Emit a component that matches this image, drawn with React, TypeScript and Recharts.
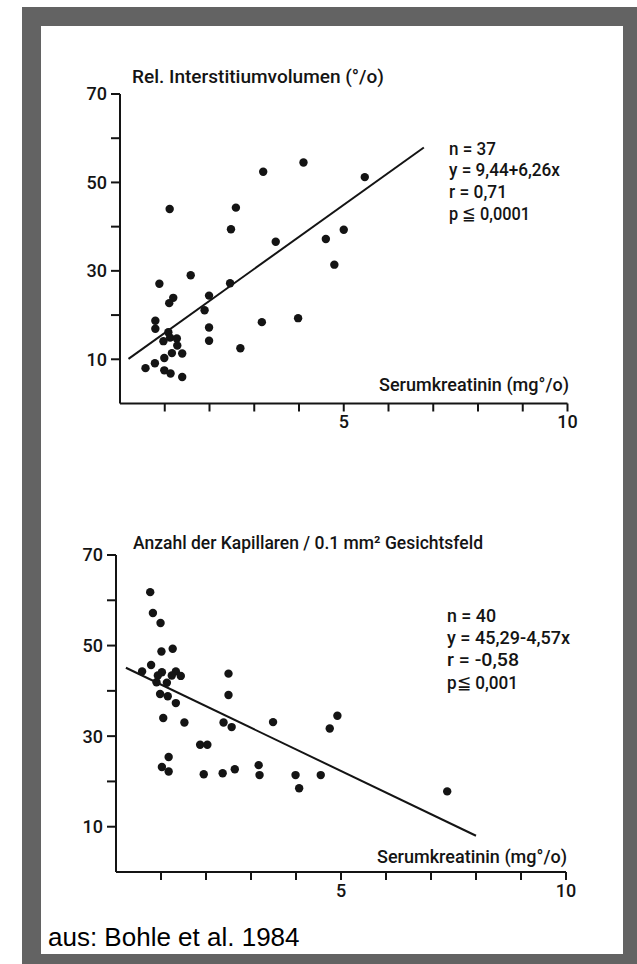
import React from 'react';
import { ScatterChart, Scatter, XAxis, YAxis, ReferenceLine } from 'recharts';

// ---- axis ticks ----
const xTicks = [1, 2, 3, 4, 5, 6, 7, 8, 9, 10];
const xLabelled = [5, 10];
const yTicks = [10, 20, 30, 40, 50, 60, 70];
const yLabelled = [10, 30, 50, 70];

// ---- top panel: Rel. Interstitiumvolumen vs Serumkreatinin ----
const topSerum = [4.10, 3.20, 5.47, 1.11, 2.59, 2.48, 5.00, 4.60, 3.48, 4.79, 1.58, 0.88, 2.46, 1.19, 1.10, 1.99, 1.89, 0.79, 0.79, 1.99, 3.17, 3.98, 1.99, 1.08, 1.12, 0.97, 1.27, 1.28, 1.16, 1.39, 0.99, 2.69, 0.57, 0.78, 0.99, 1.13, 1.39];
const topVolume = [54.5, 52.4, 51.2, 44.0, 44.3, 39.4, 39.3, 37.2, 36.6, 31.4, 29.0, 27.1, 27.2, 23.9, 22.7, 24.4, 21.1, 18.7, 16.9, 17.2, 18.4, 19.3, 14.2, 16.1, 14.9, 14.1, 14.7, 13.1, 11.4, 11.3, 10.3, 12.5, 8.0, 9.1, 7.5, 6.8, 6.0];
const topLineX = [0.19, 6.79];
const topLineY = [10.1, 57.9];

// ---- bottom panel: Anzahl der Kapillaren vs Serumkreatinin ----
const botSerum = [0.76, 0.82, 0.99, 1.01, 1.26, 0.78, 0.58, 1.02, 0.93, 1.33, 1.44, 0.90, 1.13, 0.98, 1.15, 1.33, 1.05, 1.52, 2.50, 2.50, 2.39, 2.57, 3.49, 4.75, 4.92, 1.87, 2.03, 1.17, 1.02, 1.17, 1.95, 2.37, 2.64, 3.17, 3.19, 3.99, 4.07, 4.55, 7.36, 1.24];
const botCapillaries = [61.8, 57.2, 55.0, 48.7, 49.3, 45.7, 44.3, 44.1, 43.4, 44.3, 43.3, 41.9, 41.8, 39.3, 38.8, 37.3, 34.0, 33.0, 43.8, 39.1, 33.0, 32.0, 33.1, 31.7, 34.5, 28.1, 28.1, 25.4, 23.2, 22.2, 21.6, 21.8, 22.7, 23.6, 21.4, 21.4, 18.5, 21.4, 17.8, 43.4];
const botLineX = [0.22, 8.0];
const botLineY = [45.1, 8.0];

const topData = topSerum.map((x, i) => ({ x, y: topVolume[i] }));
const botData = botSerum.map((x, i) => ({ x, y: botCapillaries[i] }));
const topSeg = topLineX.map((x, i) => ({ x, y: topLineY[i] }));
const botSeg = botLineX.map((x, i) => ({ x, y: botLineY[i] }));

const INK = '#141414';
const FONT = 'Roboto, "Noto Sans", sans-serif';

const dot = (p: any) => <circle cx={p.cx} cy={p.cy} r={4.2} fill={INK} />;

const tickStyle = { fill: INK, fontSize: 18, fontFamily: FONT, fontWeight: 500 };

function Panel({ data, seg, margin }: { data: any[]; seg: any[]; margin: any }) {
  return (
    <ScatterChart width={637} height={480} margin={margin}>
      <XAxis
        type="number"
        dataKey="x"
        domain={[0, 10]}
        ticks={xTicks}
        interval={0}
        height={30}
        tickSize={8}
        tickMargin={4}
        axisLine={{ stroke: INK, strokeWidth: 2 }}
        tickLine={{ stroke: INK, strokeWidth: 2 }}
        tick={tickStyle}
        tickFormatter={(v: number) => (xLabelled.includes(v) ? String(v) : '')}
        allowDataOverflow
      />
      <YAxis
        type="number"
        dataKey="y"
        domain={[0, 70]}
        ticks={yTicks}
        interval={0}
        width={60}
        tickSize={9}
        tickMargin={4}
        axisLine={{ stroke: INK, strokeWidth: 2 }}
        tickLine={{ stroke: INK, strokeWidth: 2 }}
        tick={tickStyle}
        tickFormatter={(v: number) => (yLabelled.includes(v) ? String(v) : '')}
        allowDataOverflow
      />
      <ReferenceLine segment={seg} stroke={INK} strokeWidth={2} ifOverflow="visible" />
      <Scatter data={data} shape={dot} isAnimationActive={false} />
    </ScatterChart>
  );
}

const txt = { fill: INK, fontFamily: FONT, fontWeight: 500 } as const;

export default function App() {
  return (
    <div style={{ position: 'absolute', left: 0, top: 0, width: 637, height: 964, background: '#fff' }}>
      <div style={{ position: 'absolute', left: 22, top: 7, width: 615, height: 957, background: '#636363' }} />
      <div style={{ position: 'absolute', left: 41, top: 26, width: 582, height: 928, background: '#fff' }} />
      <div style={{ position: 'absolute', left: 0, top: 0 }}>
        <Panel data={topData} seg={topSeg} margin={{ top: 94, right: 69.5, bottom: 46.5, left: 60 }} />
      </div>
      <div style={{ position: 'absolute', left: 0, top: 480 }}>
        <Panel data={botData} seg={botSeg} margin={{ top: 75, right: 71, bottom: 58, left: 56 }} />
      </div>
      <svg width={637} height={964} style={{ position: 'absolute', left: 0, top: 0, pointerEvents: 'none' }}>
        <text x={132} y={83} fontSize={18} textLength={252} lengthAdjust="spacingAndGlyphs" {...txt}>Rel. Interstitiumvolumen (°/o)</text>
        <text x={449} y={155} fontSize={19} textLength={47} lengthAdjust="spacingAndGlyphs" {...txt}>n = 37</text>
        <text x={449} y={176} fontSize={19} textLength={111} lengthAdjust="spacingAndGlyphs" {...txt}>y = 9,44+6,26x</text>
        <text x={449} y={198} fontSize={19} textLength={58} lengthAdjust="spacingAndGlyphs" {...txt}>r = 0,71</text>
        <text x={449} y={220} fontSize={19} textLength={81} lengthAdjust="spacingAndGlyphs" {...txt}>p ≦ 0,0001</text>
        <text x={379} y={391} fontSize={19} textLength={190} lengthAdjust="spacingAndGlyphs" {...txt}>Serumkreatinin (mg°/o)</text>

        <text x={133} y={549} fontSize={18} textLength={350} lengthAdjust="spacingAndGlyphs" {...txt}>Anzahl der Kapillaren / 0.1 mm² Gesichtsfeld</text>
        <text x={447} y={622} fontSize={19} textLength={49} lengthAdjust="spacingAndGlyphs" {...txt}>n = 40</text>
        <text x={447} y={644} fontSize={19} textLength={123} lengthAdjust="spacingAndGlyphs" {...txt}>y = 45,29-4,57x</text>
        <text x={447} y={666} fontSize={19} textLength={72} lengthAdjust="spacingAndGlyphs" {...txt}>r = -0,58</text>
        <text x={447} y={689} fontSize={19} textLength={71} lengthAdjust="spacingAndGlyphs" {...txt}>p≦ 0,001</text>
        <text x={377} y={863} fontSize={19} textLength={190} lengthAdjust="spacingAndGlyphs" {...txt}>Serumkreatinin (mg°/o)</text>

        <text x={48} y={946} fontSize={26} fill="#000" fontFamily='"Liberation Sans", Arial, sans-serif'>aus: Bohle et al. 1984</text>
      </svg>
    </div>
  );
}
